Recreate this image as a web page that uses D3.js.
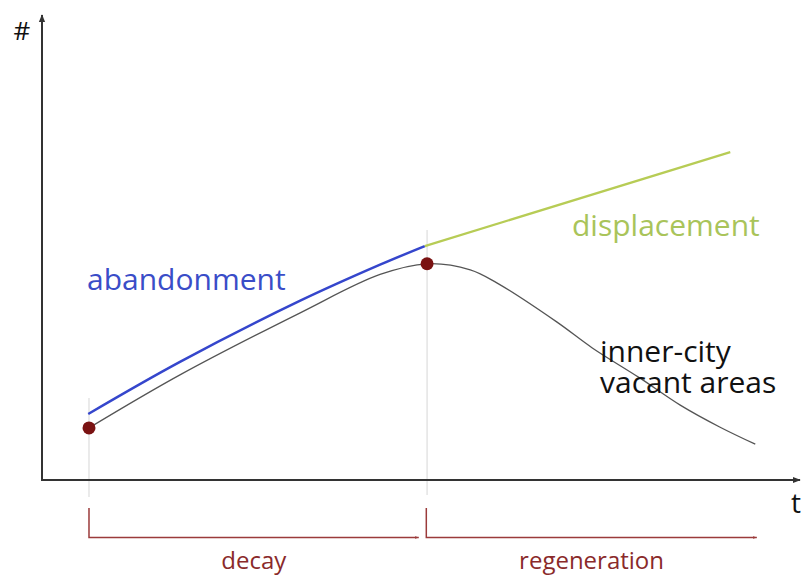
<!DOCTYPE html>
<html>
<head>
  <title>Vacant areas</title>
<script src="https://d3js.org/d3.v7.min.js"></script>
<style>
  body { margin: 0; background: #fff; }
  svg { display: block; }
</style>
</head>
<body>
<svg width="803" height="576" font-family="'Open Sans', sans-serif"></svg>
<script>

// time (t) and amount (#) in arbitrary units, 0..100
var blueT  = [6.1, 18.2, 34.0, 44.6, 50.5];
var blueV  = [14.2, 25.4, 38.5, 46.3, 50.3];

var greenT = [50.5, 90.8];
var greenV = [50.3, 70.5];

var blackT = [6.2, 18.2, 34.0, 44.6, 50.8, 56.5, 60.0, 67.9, 72.6, 78.9, 84.2, 89.4, 94.1];
var blackV = [11.2, 22.6, 35.9, 44.2, 46.5, 45.2, 42.4, 34.0, 28.4, 21.9, 16.1, 11.4, 7.7];

var dotT = [6.2, 50.8];
var dotV = [11.2, 46.5];

var phases     = ["decay", "regeneration"];
var phaseStart = [6.2, 50.7];
var phaseEnd   = [49.7, 94.3];

var svg = d3.select("svg"),
    width = +svg.attr("width"),
    height = +svg.attr("height");

var x = d3.scaleLinear().domain([0, 100]).range([42, 800]);
var y = d3.scaleLinear().domain([0, 100]).range([480, 15]);

var defs = svg.append("defs");
defs.append("marker")
    .attr("id", "arrow")
    .attr("viewBox", "0 0 10 10")
    .attr("refX", 9).attr("refY", 5)
    .attr("markerWidth", 4).attr("markerHeight", 4)
    .attr("orient", "auto")
  .append("path")
    .attr("d", "M0,1L10,5L0,9Z")
    .attr("fill", "#333");
defs.append("marker")
    .attr("id", "arrowRed")
    .attr("viewBox", "0 0 10 10")
    .attr("refX", 9).attr("refY", 5)
    .attr("markerWidth", 3).attr("markerHeight", 3)
    .attr("orient", "auto")
  .append("path")
    .attr("d", "M0,2L10,5L0,8Z")
    .attr("fill", "#9b3b3b");

function pts(ts, vs) {
  return ts.map(function(t, i) { return [t, vs[i]]; });
}

// grey guides at the phase starts
svg.append("line")
    .attr("x1", x(dotT[0])).attr("x2", x(dotT[0]))
    .attr("y1", 398).attr("y2", 497)
    .attr("stroke", "#ddd").attr("stroke-width", 1.2);
svg.append("line")
    .attr("x1", x(dotT[1])).attr("x2", x(dotT[1]))
    .attr("y1", 230).attr("y2", 495)
    .attr("stroke", "#ddd").attr("stroke-width", 1.2);

// axes
svg.append("g")
    .attr("transform", "translate(0," + y(0) + ")")
    .call(d3.axisBottom(x).ticks(0).tickSizeOuter(0))
    .call(function(g) { g.select(".domain").remove(); });
svg.append("line")
    .attr("x1", x(0)).attr("y1", y(0))
    .attr("x2", x(100)).attr("y2", y(0))
    .attr("stroke", "#333").attr("stroke-width", 2)
    .attr("marker-end", "url(#arrow)");
svg.append("line")
    .attr("x1", x(0)).attr("y1", y(0) + 1)
    .attr("x2", x(0)).attr("y2", y(100))
    .attr("stroke", "#333").attr("stroke-width", 2)
    .attr("marker-end", "url(#arrow)");

svg.append("text").attr("x", 22).attr("y", 40)
    .attr("text-anchor", "middle").attr("font-size", 26).attr("fill", "#111").text("#");
svg.append("text").attr("x", 796).attr("y", 513)
    .attr("text-anchor", "middle").attr("font-size", 28).attr("fill", "#111").text("t");

var line = d3.line()
    .x(function(d) { return x(d[0]); })
    .y(function(d) { return y(d[1]); })
    .curve(d3.curveCatmullRom.alpha(0.5));

svg.append("path")
    .attr("d", line(pts(blackT, blackV)))
    .attr("fill", "none").attr("stroke", "#555").attr("stroke-width", 1.3);
svg.append("path")
    .attr("d", line(pts(blueT, blueV)))
    .attr("fill", "none").attr("stroke", "#3546cc").attr("stroke-width", 2.5);
svg.append("path")
    .attr("d", line(pts(greenT, greenV)))
    .attr("fill", "none").attr("stroke", "#b7cc55").attr("stroke-width", 2.2);

svg.selectAll(".dot")
    .data(pts(dotT, dotV))
  .enter().append("circle")
    .attr("class", "dot")
    .attr("cx", function(d) { return x(d[0]); })
    .attr("cy", function(d) { return y(d[1]); })
    .attr("r", 6.5)
    .attr("fill", "#7a1212");

// phase brackets
var phase = svg.selectAll(".phase")
    .data(phases)
  .enter().append("g")
    .attr("class", "phase");
phase.append("path")
    .attr("d", function(d, i) {
      return "M" + x(phaseStart[i]) + ",508V537.5H" + x(phaseEnd[i]);
    })
    .attr("fill", "none").attr("stroke", "#9b3b3b").attr("stroke-width", 1.5)
    .attr("marker-end", "url(#arrowRed)");
phase.append("text")
    .attr("x", function(d, i) { return (x(phaseStart[i]) + x(phaseEnd[i])) / 2; })
    .attr("y", 569)
    .attr("text-anchor", "middle")
    .attr("font-size", 24)
    .attr("fill", "#8a2a2a")
    .text(function(d) { return d; });

// series labels
svg.append("text").attr("x", 87).attr("y", 290)
    .attr("font-size", 30).attr("fill", "#3a4dc8").text("abandonment");
svg.append("text").attr("x", 572).attr("y", 236)
    .attr("font-size", 30).attr("fill", "#a9c45a").text("displacement");
var inner = svg.append("text")
    .attr("font-size", 30).attr("fill", "#111");
inner.append("tspan").attr("x", 600).attr("y", 362).text("inner-city");
inner.append("tspan").attr("x", 600).attr("y", 393).text("vacant areas");

</script>
</body>
</html>
